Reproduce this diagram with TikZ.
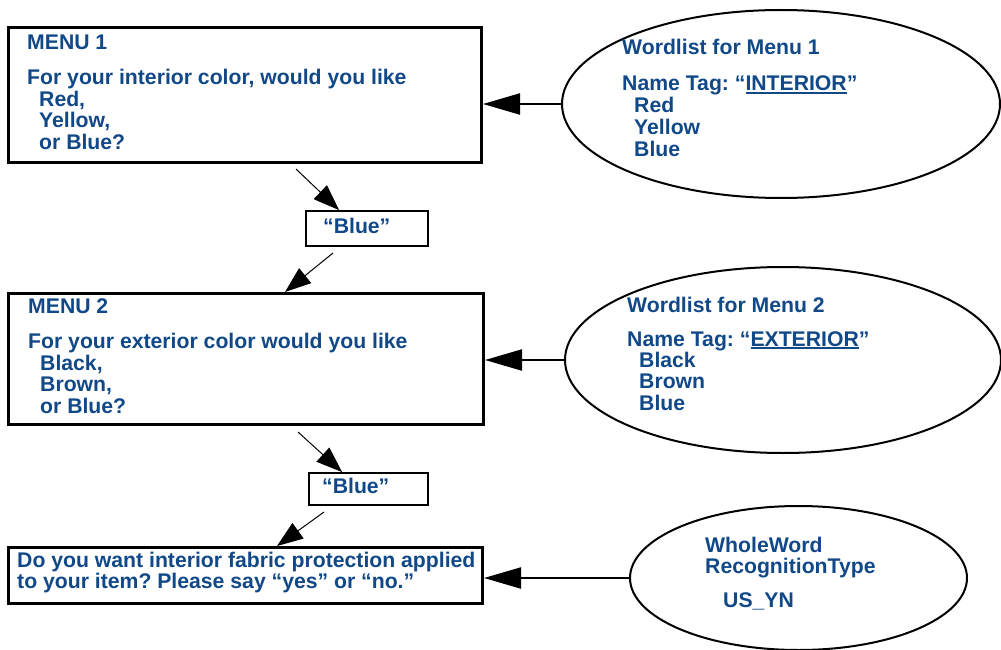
\documentclass[tikz,border=0pt]{standalone}
\usepackage{fontspec}
\setmainfont{Liberation Sans}
\usetikzlibrary{shapes.geometric,arrows.meta}
\definecolor{txtblue}{RGB}{16,72,136}
\frenchspacing
% underline drawn a little lower and heavier than \underline
\newcommand\tagul[1]{\setbox0=\hbox{#1}\rlap{\rule[-2.6pt]{\wd0}{1.3pt}}\box0}
\tikzset{
  menubox/.style={draw, rectangle, line width=3pt, inner sep=0pt},
  wordbox/.style={draw, rectangle, line width=1.8pt, inner sep=0pt},
  wordlist/.style={draw, ellipse, line width=2pt, inner sep=0pt},
  txt/.style={anchor=base west, inner sep=0pt, text=txtblue,
    font=\fontsize{21.2pt}{21.2pt}\selectfont\bfseries},
  feed/.style={line width=2.2pt, -{Triangle[length=37pt,width=21pt]}},
  pick/.style={line width=1pt, -{Triangle[length=26pt,width=19pt]}},
}
\begin{document}
\begin{tikzpicture}[x=1pt,y=-1pt]
\useasboundingbox (0,0) rectangle (1001,650);

% menu prompts
\node[menubox, minimum width=473pt, minimum height=135pt] (m1) at (245,95) {};
\node[menubox, minimum width=475pt, minimum height=131pt] (m2) at (246,359) {};
\node[menubox, minimum width=474pt, minimum height=56pt] (m3) at (245.5,575.5) {};

% recognised answers
\node[wordbox, minimum width=122pt, minimum height=35pt] (b1) at (367,228.5) {};
\node[wordbox, minimum width=119pt, minimum height=32pt] (b2) at (368.5,489) {};

% word lists
\node[wordlist, minimum width=438pt, minimum height=188pt] (e1) at (781,104) {};
\node[wordlist, minimum width=436pt, minimum height=186pt] (e2) at (783,360) {};
\node[wordlist, minimum width=337pt, minimum height=144pt] (e3) at (798.5,578) {};

% texts
\node[txt] (m1t) at (27,50) {\begin{tabular}[t]{@{}l@{}}MENU 1\\[12.8pt]
  For your interior color, would you like\\
  \hspace{12pt}Red,\\ \hspace{12pt}Yellow,\\ \hspace{12pt}or Blue?\end{tabular}};
\node[txt] (m2t) at (28,313) {\begin{tabular}[t]{@{}l@{}}MENU 2\\[13.8pt]
  For your exterior color would you like\\
  \hspace{12pt}Black,\\ \hspace{12pt}Brown,\\ \hspace{12pt}or Blue?\end{tabular}};
\node[txt] (m3t) at (17,567) {\begin{tabular}[t]{@{}l@{}}Do you want interior fabric protection applied\\
  to your item? Please say “yes” or “no.”\end{tabular}};
\node[txt] (b1t) at (323,233) {“Blue”};
\node[txt] (b2t) at (322,493) {“Blue”};
\node[txt] (e1t) at (622,55) {\begin{tabular}[t]{@{}l@{}}Wordlist for Menu 1\\[14.8pt]
  Name Tag: “\tagul{INTERIOR}”\\
  \hspace{12pt}Red\\ \hspace{12pt}Yellow\\ \hspace{12pt}Blue\end{tabular}};
\node[txt] (e2t) at (627,312) {\begin{tabular}[t]{@{}l@{}}Wordlist for Menu 2\\[12.8pt]
  Name Tag: “\tagul{EXTERIOR}”\\
  \hspace{12pt}Black\\ \hspace{12pt}Brown\\ \hspace{12pt}Blue\end{tabular}};
\node[txt] (e3t) at (705,552) {\begin{tabular}[t]{@{}l@{}}WholeWord\\
  RecognitionType\\[12.8pt]
  \hspace{18pt}US\_YN\end{tabular}};

% word lists feed the menus
\draw[feed] (e1.west) -- (e1.west -| m1.east);
\draw[feed] (e2.west) -- (e2.west -| m2.east);
\draw[feed] (e3.west) -- (e3.west -| m3.east);

% spoken answers lead to the next prompt
\coordinate (p1) at (296,169);
\coordinate (p2) at (333,253);
\coordinate (p3) at (298,432);
\coordinate (p4) at (324,512);
\draw[pick] (p1) -- ([xshift=34pt]b1.north west);
\draw[pick] (p2) -- ([xshift=278pt]m2.north west);
\draw[pick] (p3) -- ([xshift=34pt]b2.north west);
\draw[pick] (p4) -- ([xshift=270pt]m3.north west);
\end{tikzpicture}
\end{document}
